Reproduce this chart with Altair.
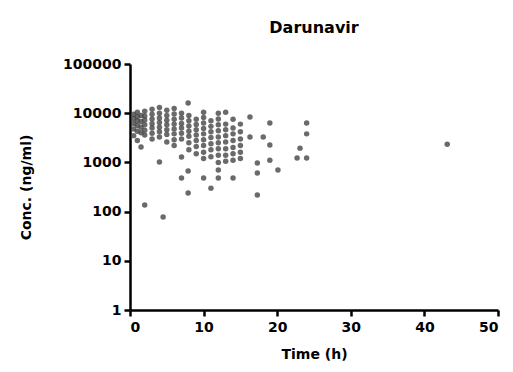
import altair as alt
import pandas as pd

# nominal sampling times and concentrations
times = (
    [0.5]*5 + [1]*6 + [1.5]*5 + [2]*7 + [3]*7 + [4]*8 + [4.5] + [5]*7 + [6]*8 +
    [7]*8 + [7.9]*3 + [8]*7 + [9]*7 + [10]*10 + [11]*8 + [12]*11 + [13]*8 +
    [14]*8 + [15]*6 + [16.3]*2 + [17.3]*3 + [18.1] + [19]*3 + [20.1] + [22.7] +
    [23.1] + [24]*3 + [43.1]
)
concs = (
    [9500, 7800, 6200, 4800, 3500] +
    [10500, 8500, 7000, 5600, 4300, 2800] +
    [9000, 6800, 5200, 4000, 2050] +
    [11000, 8800, 7300, 5800, 4500, 3600, 136] +
    [12000, 9500, 7600, 6100, 5000, 3900, 3000] +
    [13000, 10000, 8000, 6500, 5200, 4200, 3300, 1020] +
    [78] +
    [11500, 9000, 7200, 5800, 4600, 3700, 2600] +
    [12500, 9600, 7500, 6000, 4800, 3800, 2900, 2200] +
    [10000, 8000, 6200, 5000, 3900, 3000, 1290, 480] +
    [16200, 670, 240] +
    [9000, 7000, 5500, 4300, 3400, 2500, 1800] +
    [7500, 5900, 4600, 3600, 2800, 2100, 1500] +
    [10500, 8200, 6300, 4900, 3800, 2900, 2200, 1600, 1200, 480] +
    [7000, 5400, 4200, 3200, 2400, 1800, 1300, 300] +
    [10000, 7600, 5800, 4400, 3300, 2500, 1900, 1400, 1000, 700, 480] +
    [10500, 6000, 4600, 3500, 2600, 1900, 1400, 1050] +
    [7500, 5000, 3800, 2800, 2000, 1500, 1100, 480] +
    [6000, 4200, 3000, 2200, 1600, 1200] +
    [8400, 3300] +
    [970, 610, 218] +
    [3300] +
    [6300, 2250, 1100] +
    [700] +
    [1230] +
    [1950] +
    [6300, 3800, 1230] +
    [2350]
)

x_ticks = [0, 10, 20, 30, 40, 50]
y_ticks = [1, 10, 100, 1000, 10000, 100000]

df = pd.DataFrame({"time": times, "conc": concs})

FONT = "DejaVu Sans"

chart = alt.Chart(df).mark_circle(size=30, color="#454545", opacity=0.8).encode(
    x=alt.X("time:Q",
            scale=alt.Scale(domain=[0, 50], nice=False, zero=False),
            axis=alt.Axis(values=x_ticks, title="Time (h)", grid=False,
                          format="d", labelPadding=4, titlePadding=13)),
    y=alt.Y("conc:Q",
            scale=alt.Scale(type="log", domain=[1, 100000], nice=False),
            axis=alt.Axis(values=y_ticks, title="Conc. (ng/ml)", grid=False,
                          format="d", labelPadding=3, titlePadding=29)),
).properties(
    width=368, height=246,
    title=alt.TitleParams("Darunavir", fontSize=16, font=FONT, fontWeight="bold",
                          offset=21, anchor="middle"),
    autosize=alt.AutoSizeParams(type="none"),
    padding={"left": 130, "top": 64, "right": 15, "bottom": 62},
).configure_view(
    stroke=None
).configure_axis(
    domainColor="black", domainWidth=2.5, tickColor="black", tickWidth=2.5,
    tickSize=6, labelFont=FONT, labelFontSize=14, labelFontWeight="bold",
    labelColor="black", titleFont=FONT, titleFontSize=14, titleFontWeight="bold",
    titleColor="black"
)

chart.save("out.html", embed_options={"renderer": "svg", "actions": False})
